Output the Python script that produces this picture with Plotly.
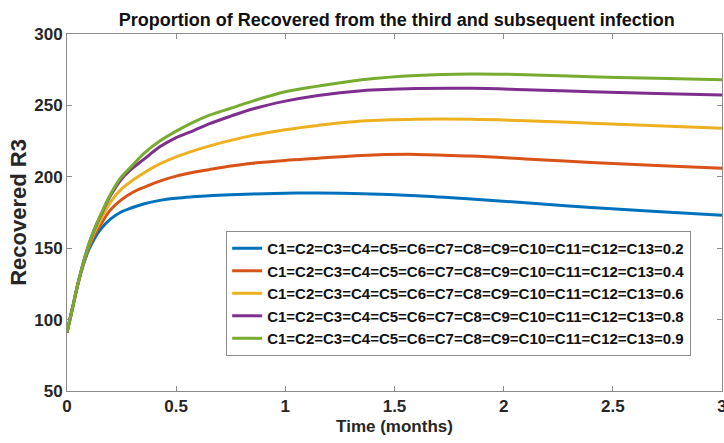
import plotly.graph_objects as go

t = [0, 0.025, 0.05, 0.075, 0.1, 0.125, 0.15, 0.2, 0.25, 0.3, 0.35, 0.425, 0.5, 0.575,
     0.65, 0.75, 0.85, 1.0, 1.15, 1.35, 1.6, 1.85, 2.1, 2.4, 2.7, 3.0]

r3_02 = [91, 108, 125, 138.5, 149, 156.5, 162.5, 170.5, 175.5, 178.5, 181, 183.5, 185, 186,
         186.8, 187.5, 188, 188.5, 188.6, 188.2, 186.8, 184.5, 181.8, 178.5, 175.7, 173]
r3_04 = [91, 108, 125, 139, 150.5, 159, 165.5, 177, 184, 189, 192.5, 197, 200.5, 203,
         205, 207.5, 209.5, 211.5, 213, 215, 215.7, 214.5, 212.5, 210, 208, 206]
r3_06 = [91, 108, 125, 139.5, 151.5, 161, 168.5, 182.5, 191.5, 197.5, 202.5, 209, 214, 218,
         221.5, 225.5, 229, 233, 236, 239, 240.3, 240.3, 239.3, 237.5, 235.8, 234]
r3_08 = [91, 108, 125, 140, 152.5, 163, 171.5, 187, 198.5, 206, 212, 221, 227.5, 232,
         237, 242.5, 247.5, 253, 257, 260.3, 261.8, 262, 261, 259.5, 258.3, 257.3]
r3_09 = [91, 108, 125, 140, 153, 163, 172, 188, 200, 208, 216, 225, 232, 238,
         243, 248, 253, 259.5, 263.5, 268, 271, 272, 271.5, 270, 269, 268]

labels = ["C1=C2=C3=C4=C5=C6=C7=C8=C9=C10=C11=C12=C13=0.2",
          "C1=C2=C3=C4=C5=C6=C7=C8=C9=C10=C11=C12=C13=0.4",
          "C1=C2=C3=C4=C5=C6=C7=C8=C9=C10=C11=C12=C13=0.6",
          "C1=C2=C3=C4=C5=C6=C7=C8=C9=C10=C11=C12=C13=0.8",
          "C1=C2=C3=C4=C5=C6=C7=C8=C9=C10=C11=C12=C13=0.9"]
colors = ["#0072BD", "#D95319", "#EDB120", "#7E2F8E", "#77AC30"]
series = [r3_02, r3_04, r3_06, r3_08, r3_09]

FONT = "Liberation Sans, Arial, sans-serif"

fig = go.Figure()
for y, name, c in zip(series, labels, colors):
    fig.add_trace(go.Scatter(x=t, y=y, mode="lines", name=name,
                             line=dict(color=c, width=3, shape="spline", smoothing=1.0)))

axis_common = dict(showline=True, linecolor="#8c8c8c", linewidth=1, mirror="ticks",
                   ticks="inside", ticklen=5, tickcolor="#8c8c8c", showgrid=False,
                   zeroline=False, automargin=False, ticklabeloverflow="allow",
                   tickfont=dict(family=FONT, size=17, color="#262626", weight="bold"))

fig.update_layout(
    width=724, height=443,
    margin=dict(l=67, r=2, t=34, b=52),
    paper_bgcolor="white", plot_bgcolor="white",
    title=dict(text="Proportion of Recovered from the third and subsequent infection",
               x=0.548, xanchor="center", y=0.956, yanchor="middle",
               font=dict(family=FONT, size=18, color="#111111", weight="bold")),
    xaxis=dict(range=[0, 3], dtick=0.5, tick0=0,
               title=dict(text="Time (months)", standoff=4,
                          font=dict(family=FONT, size=17, color="#262626", weight="bold")),
               **axis_common),
    yaxis=dict(range=[50, 300], dtick=50, tick0=50,
               title=dict(text="Recovered R3", standoff=1,
                          font=dict(family=FONT, size=22, color="#262626", weight="bold")),
               **axis_common),
    legend=dict(x=0.243, y=0.448, xanchor="left", yanchor="top",
                bgcolor="white", bordercolor="#8c8c8c", borderwidth=1,
                font=dict(family=FONT, size=15, color="#111111", weight="bold"),
                tracegroupgap=0, itemwidth=30),
    showlegend=True,
)

fig.write_html("out.html", config={"displayModeBar": False},
               post_script="document.body.style.margin='0';document.body.style.overflow='hidden';")
